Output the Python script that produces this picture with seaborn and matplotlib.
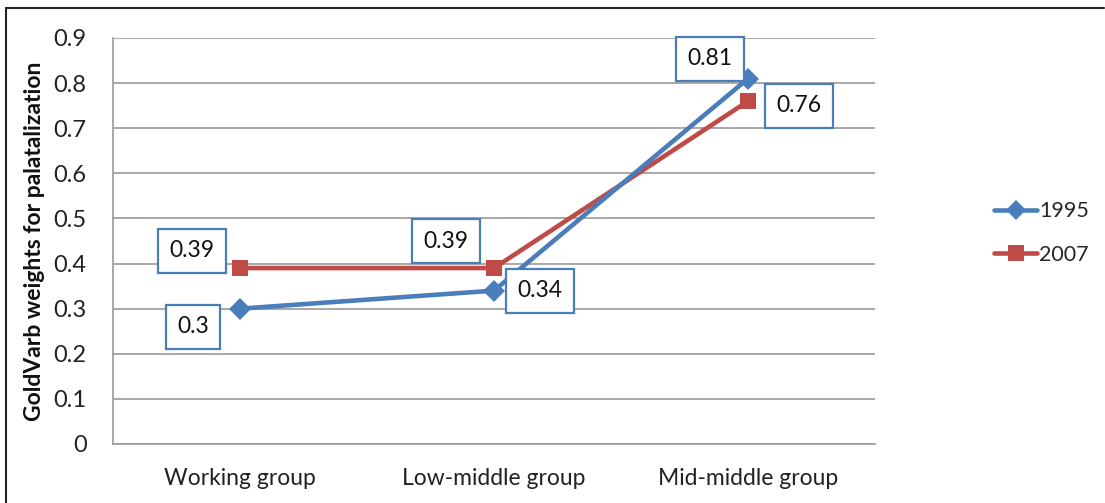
import matplotlib
matplotlib.use("Agg")
import matplotlib.pyplot as plt
import seaborn as sns
import pandas as pd
from matplotlib.lines import Line2D

groups = ["Working group", "Low-middle group", "Mid-middle group"]
years = ["1995", "2007"]
weights_1995 = [0.30, 0.34, 0.81]
weights_2007 = [0.39, 0.39, 0.76]
y_ticks = [0, 0.1, 0.2, 0.3, 0.4, 0.5, 0.6, 0.7, 0.8, 0.9]
y_label = "GoldVarb weights for palatalization"

colors = {"1995": "#4a7ebb", "2007": "#be4b48"}
markers = {"1995": "D", "2007": "s"}

df = pd.DataFrame({
    "group": groups * 2,
    "idx": list(range(len(groups))) * 2,
    "year": [years[0]] * 3 + [years[1]] * 3,
    "weight": weights_1995 + weights_2007,
})

sns.set_theme(style="white")
plt.rcParams["font.family"] = ["Lato", "DejaVu Sans"]

fig = plt.figure(figsize=(11.05, 5.03), dpi=100)
ax = fig.add_axes([113 / 1105, 59 / 503, 762 / 1105, 406 / 503])

# red series first so the blue line sits above it where they cross
for yr, ms in [("2007", 12), ("1995", 11)]:
    sub = df[df["year"] == yr]
    sns.lineplot(data=sub, x="idx", y="weight", color=colors[yr], marker=markers[yr],
                 markersize=ms, markeredgewidth=0, linewidth=3.3, ax=ax, legend=False,
                 zorder=3)

ax.set_xlim(-0.5, 2.5)
ax.set_ylim(0, 0.9)
ax.set_yticks(y_ticks)
ax.set_yticklabels(["0" if v == 0 else f"{v:g}" for v in y_ticks], fontsize=17, color="#222222")
ax.set_xticks(range(len(groups)))
ax.set_xticklabels(groups, fontsize=16.5, color="#222222")
ax.tick_params(axis="x", length=0, pad=17)
ax.tick_params(axis="y", length=0, pad=19)
ax.set_xlabel("")
ax.set_ylabel(y_label, fontsize=16.5, fontweight="bold", labelpad=6, color="#111111")

ax.yaxis.grid(True, color="#9a9a9a", linewidth=1.2)
ax.xaxis.grid(False)
for side in ["top", "right"]:
    ax.spines[side].set_visible(False)
for side in ["left", "bottom"]:
    ax.spines[side].set_color("#9a9a9a")
    ax.spines[side].set_linewidth(1.2)

# value labels in outlined boxes, offset from their points
label_pos = [
    ("1995", 0, -0.185, -0.04, "0.3"),
    ("1995", 1, 0.18, 0.0, "0.34"),
    ("1995", 2, -0.15, 0.044, "0.81"),
    ("2007", 0, -0.19, 0.038, "0.39"),
    ("2007", 1, -0.19, 0.06, "0.39"),
    ("2007", 2, 0.20, -0.01, "0.76"),
]
for yr, i, dx, dy, txt in label_pos:
    vals = weights_1995 if yr == "1995" else weights_2007
    ax.text(i + dx, vals[i] + dy, txt, fontsize=16.5, ha="center", va="center",
            color="#111111", zorder=5,
            bbox=dict(boxstyle="square,pad=0.5", facecolor="white",
                      edgecolor="#4a7ebb", linewidth=1.6))

handles = [
    Line2D([0], [0], color=colors["1995"], marker="D", markersize=10, markeredgewidth=0, linewidth=3.3),
    Line2D([0], [0], color=colors["2007"], marker="s", markersize=12, markeredgewidth=0, linewidth=3.3),
]
fig.legend(handles, years, loc="center left", bbox_to_anchor=(994 / 1105, 1 - 233 / 503),
           frameon=False, fontsize=15.5, handlelength=2.0, handletextpad=0.1,
           labelspacing=1.1, borderaxespad=0, borderpad=0)

# outer frame (top and left edges)
fig.add_artist(Line2D([6 / 1105, 6 / 1105], [0, 1 - 8 / 503], transform=fig.transFigure,
                      color="#222222", linewidth=1.5))
fig.add_artist(Line2D([6 / 1105, 1104 / 1105], [1 - 8 / 503, 1 - 8 / 503], transform=fig.transFigure,
                      color="#222222", linewidth=1.5))

fig.savefig("out.png", dpi=100)
